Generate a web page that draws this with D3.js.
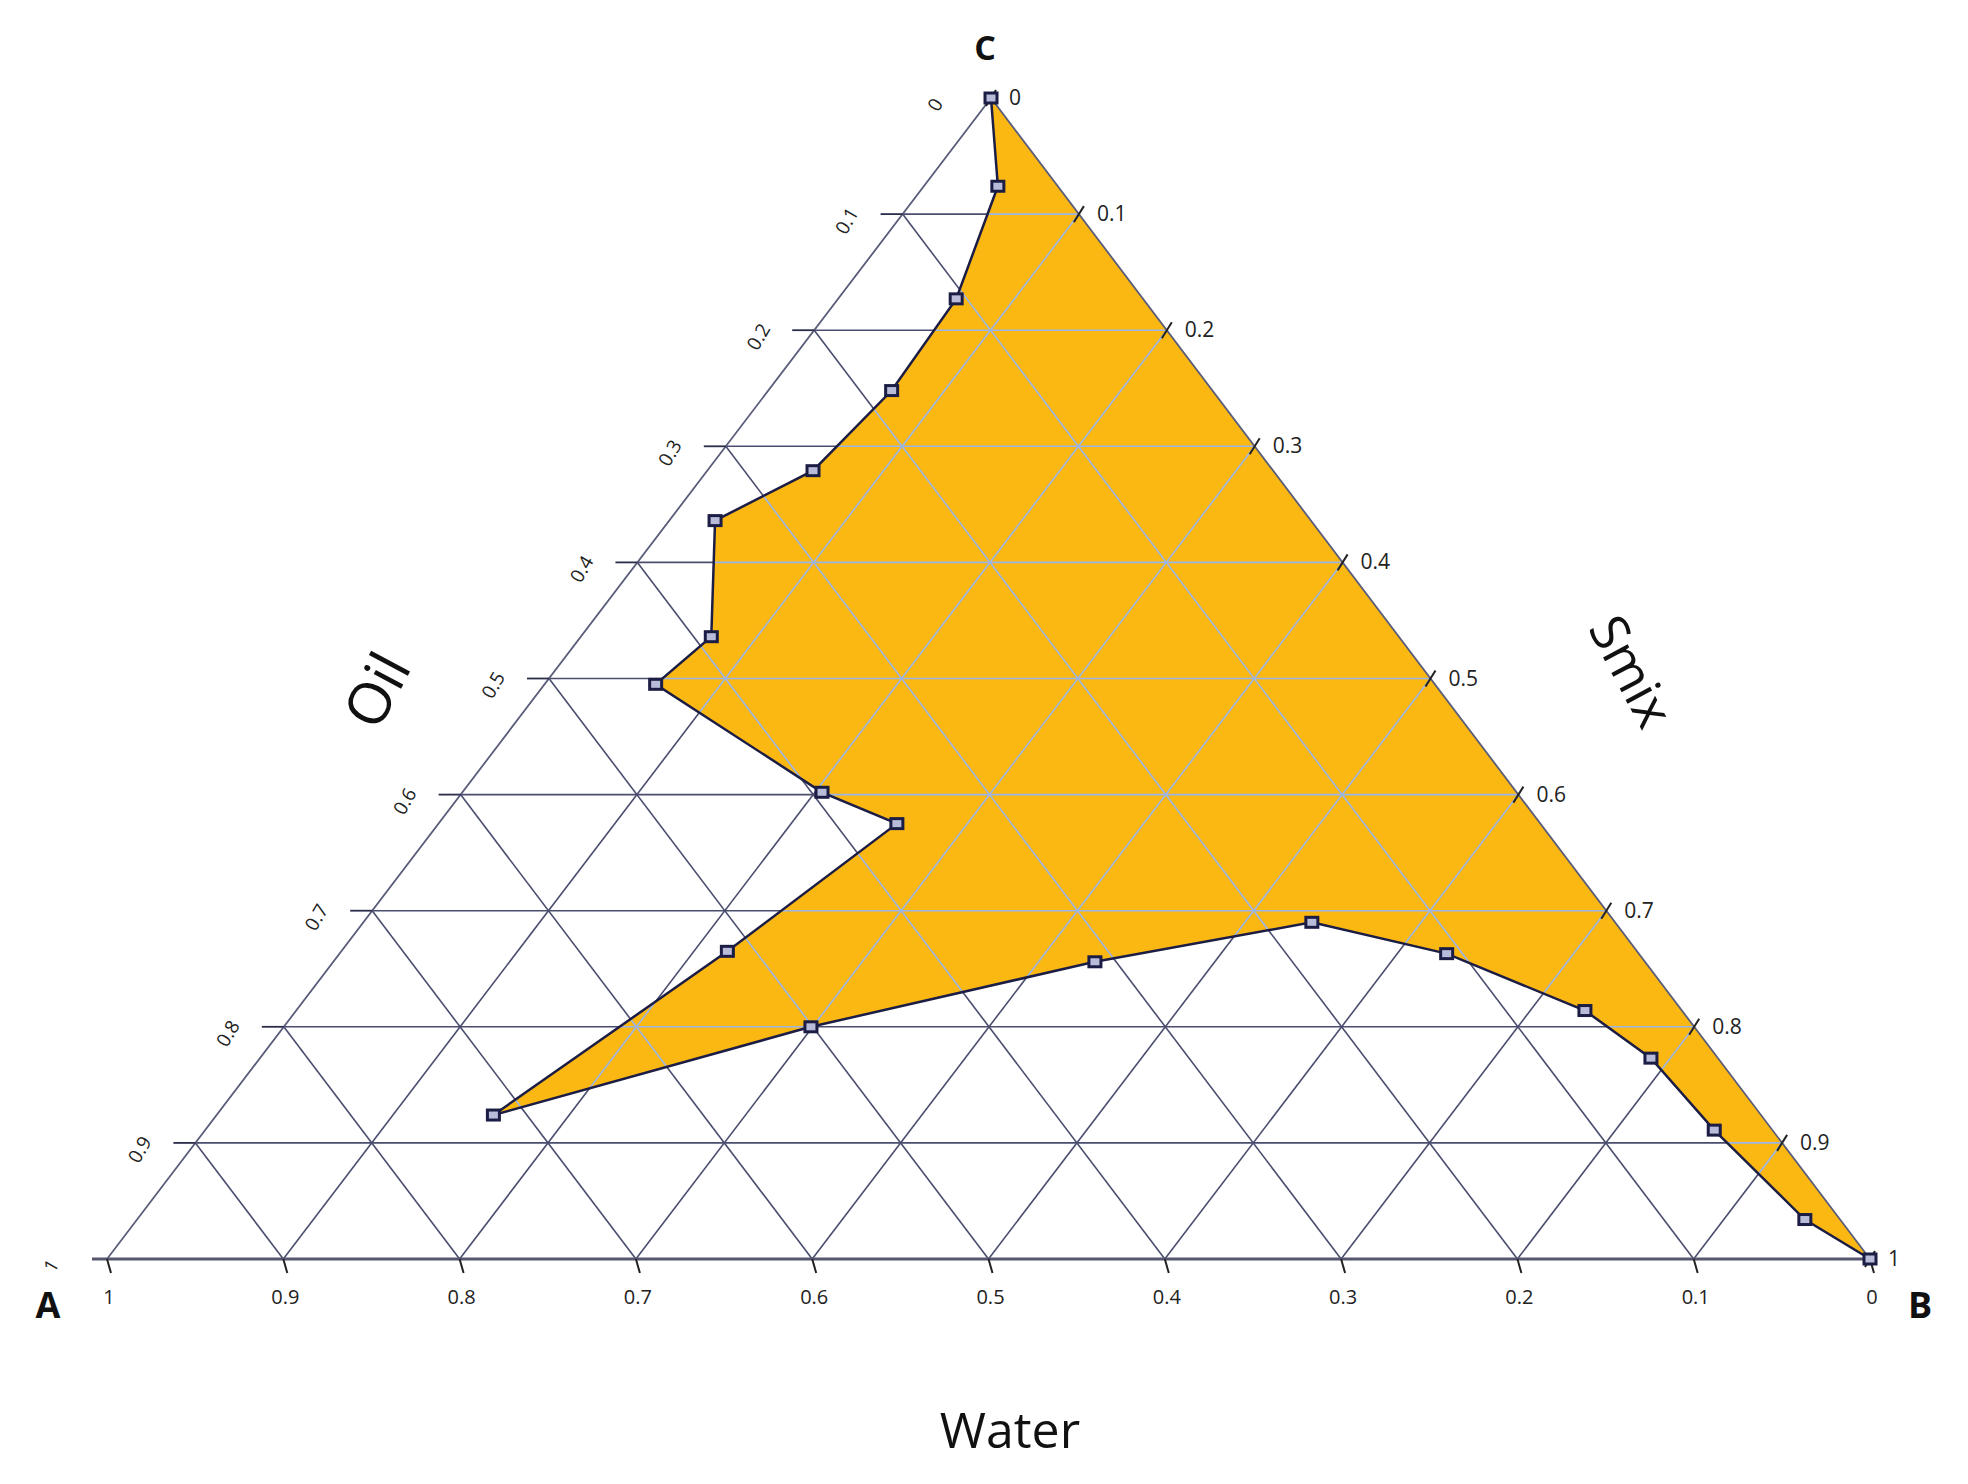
<!DOCTYPE html>
<html><head><meta charset="utf-8">
<script src="https://cdn.jsdelivr.net/npm/d3@7"></script>
<style>body{margin:0;background:#fff}text{font-family:"Open Sans","DejaVu Sans",sans-serif}</style>
</head><body><svg id="chart" width="1968" height="1484"></svg>
<script>
// boundary points: water fraction (bottom axis) and oil level (left axis)
const waterVals = [0, 0.034, 0.106, 0.182, 0.261, 0.338, 0.390, 0.442, 0.394, 0.365, 0.516, 0.719, 0.501, 0.312, 0.172, 0.109, 0.055, 0.038, 0.033, 0.020, 0];
const oilVals   = [0, 0.076, 0.173, 0.252, 0.321, 0.364, 0.464, 0.505, 0.598, 0.625, 0.735, 0.876, 0.800, 0.744, 0.710, 0.737, 0.786, 0.827, 0.889, 0.966, 1];
const tickVals = d3.range(0, 11).map(d => d / 10);
const bottomLabels = ["1", "0.9", "0.8", "0.7", "0.6", "0.5", "0.4", "0.3", "0.2", "0.1", "0"];
const sideLabels = ["0", "0.1", "0.2", "0.3", "0.4", "0.5", "0.6", "0.7", "0.8", "0.9", "1"];

const A = [107, 1259], B = [1870, 1259], C = [991, 98];
const svg = d3.select('#chart');

// level scale from apex to base, and point from barycentric weights
const yLev = d3.scaleLinear().domain([0, 1]).range([C[1], A[1]]);
const pt = (a, b, c) => [a * A[0] + b * B[0] + c * C[0], yLev(1 - c)];
const pos = (w, o) => pt(w, o - w, 1 - o);

const pts = waterVals.map((w, i) => pos(w, oilVals[i]));
const region = pts.concat([C]);

const gridLines = [];
tickVals.slice(1, 10).forEach(t => {
	gridLines.push([pt(0, t, 1 - t), pt(t, 0, 1 - t)].map(p => p)); // horizontal
	gridLines.push([pt(t, 0, 1 - t), pt(t, 1 - t, 0)]);  // parallel to BC
	gridLines.push([pt(0, t, 1 - t), pt(1 - t, t, 0)]);  // parallel to AC
});

const line = d3.line();
const drawGrid = (g, color, width) => {
	g.selectAll('path.grid').data(gridLines).join('path')
		.attr('class', 'grid').attr('d', line)
		.attr('stroke', color).attr('stroke-width', width).attr('fill', 'none');
};

// outline triangle and grid
const gBase = svg.append('g');
drawGrid(gBase, '#4a4d6e', 1.6);

svg.append('defs').append('clipPath').attr('id', 'reg')
	.append('path').attr('d', line(region) + 'Z');

svg.append('path').attr('d', line(region) + 'Z').attr('fill', '#fbb812');

const gIn = svg.append('g').attr('clip-path', 'url(#reg)');
drawGrid(gIn, '#9bb5e8', 1.6);

svg.append('path').attr('d', line([A, B, C]) + 'Z')
	.attr('fill', 'none').attr('stroke', '#5a5d7a').attr('stroke-width', 1.8);
svg.append('line').attr('x1', A[0] - 15).attr('x2', B[0]).attr('y1', A[1]).attr('y2', A[1])
	.attr('stroke', '#55576e').attr('stroke-width', 3);

// horizontal lines extend past left edge, plus tick marks
tickVals.forEach((t, i) => {
	const l = pt(0, t, 1 - t), r = pt(t, 0, 1 - t);
	if (i > 0 && i < 10) {
		svg.append('line').attr('x1', r[0] - 22).attr('x2', r[0]).attr('y1', r[1]).attr('y2', r[1])
			.attr('stroke', '#2b2d4a').attr('stroke-width', 1.8);
	}
	// right edge tick
	svg.append('line').attr('x1', l[0] - 5).attr('y1', l[1] + 8).attr('x2', l[0] + 5).attr('y2', l[1] - 8)
		.attr('stroke', '#222').attr('stroke-width', 2);
	svg.append('text').attr('x', l[0] + 18).attr('y', l[1] + 7)
		.attr('font-size', 21).attr('fill', '#222').text(sideLabels[i]);
	// left side labels
	svg.append('text').attr('transform', `translate(${r[0] - 50},${r[1] + 10}) rotate(-60)`)
		.attr('font-size', 19).attr('fill', '#222').attr('text-anchor', 'middle').text(sideLabels[i]);
	// bottom ticks and labels
	const b = pt(1 - t, t, 0);
	svg.append('line').attr('x1', b[0]).attr('y1', b[1]).attr('x2', b[0] + 4).attr('y2', b[1] + 14)
		.attr('stroke', '#222').attr('stroke-width', 2);
	svg.append('text').attr('x', b[0] + 2).attr('y', b[1] + 45).attr('text-anchor', 'middle')
		.attr('font-size', 20).attr('fill', '#222').text(bottomLabels[i]);
});

// boundary line and markers
svg.append('path').attr('d', line(pts)).attr('fill', 'none')
	.attr('stroke', '#1c1d45').attr('stroke-width', 2.5);
svg.selectAll('rect.m').data(pts).join('rect').attr('class', 'm')
	.attr('x', d => d[0] - 6).attr('y', d => d[1] - 5).attr('width', 12).attr('height', 10)
	.attr('fill', '#b8bcd8').attr('stroke', '#1c1d45').attr('stroke-width', 3);

// vertex labels and titles
const lab = (x, y, s, txt, extra) => svg.append('text').attr('x', x).attr('y', y)
	.attr('font-size', s).attr('text-anchor', 'middle').attr('fill', '#111').text(txt);
lab(48, 1318, 36, 'A').attr('font-weight', 'bold');
lab(1920, 1318, 36, 'B').attr('font-weight', 'bold');
lab(985, 60, 34, 'C').attr('font-weight', 'bold');
lab(1010, 1448, 50, 'Water');
svg.append('text').attr('transform', 'translate(395,700) rotate(-62)').attr('text-anchor', 'middle')
	.attr('font-size', 58).attr('fill', '#111').text('Oil');
svg.append('text').attr('transform', 'translate(1615,680) rotate(62)').attr('text-anchor', 'middle')
	.attr('font-size', 52).attr('fill', '#111').text('Smix');
</script></body></html>
